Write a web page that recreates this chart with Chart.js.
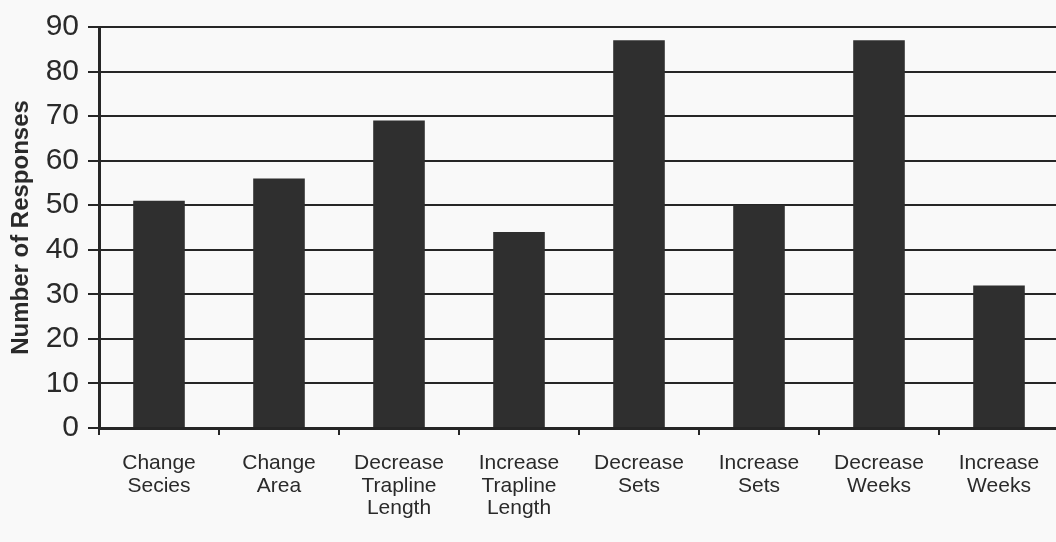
<!DOCTYPE html>
<html>
<head>
<meta charset="utf-8">
<script src="https://cdn.jsdelivr.net/npm/chart.js@4"></script>
<style>
	html, body { margin: 0; padding: 0; background: #f9f9f9; overflow: hidden; }
	#wrap { width: 1059px; height: 542px; }
</style>
</head>
<body>
<div id="wrap"><canvas id="responsesChart"></canvas></div>
<script>
// Chart data
const categories = [
	['Change', 'Secies'],
	['Change', 'Area'],
	['Decrease', 'Trapline', 'Length'],
	['Increase', 'Trapline', 'Length'],
	['Decrease', 'Sets'],
	['Increase', 'Sets'],
	['Decrease', 'Weeks'],
	['Increase', 'Weeks'],
];
const responses = [51, 56, 69, 44, 87, 50, 87, 32];
const yTicks = [0, 10, 20, 30, 40, 50, 60, 70, 80, 90];

const ink = '#262626';

window.onload = () => {
	let context = document.querySelector('#responsesChart');

	new Chart(context, {
		type: 'bar',
		data: {
			labels: categories,
			datasets: [{
				data: responses,
				backgroundColor: '#2f2f2f',
				categoryPercentage: 1,
				barPercentage: 0.43,
			}]
		},
		options: {
			responsive: true,
			maintainAspectRatio: false,
			animation: false,
			layout: { padding: { top: 25, right: 0, left: 0, bottom: 0 } },
			plugins: { legend: { display: false }, tooltip: { enabled: false } },
			scales: {
				x: {
					grid: { offset: true, drawOnChartArea: false, tickLength: 7, color: ink, lineWidth: 2 },
					border: { color: ink, width: 3 },
					ticks: {
						color: '#2a2a2a',
						padding: 17,
						maxRotation: 0,
						autoSkip: false,
						font: { family: 'Liberation Sans, Arial', size: 21, lineHeight: 1.08 },
					},
					afterFit: (scale) => { scale.height = 114; },
				},
				y: {
					min: 0,
					max: 90,
					afterBuildTicks: (scale) => { scale.ticks = yTicks.map(v => ({ value: v })); },
					grid: { color: ink, lineWidth: 2, tickLength: 11 },
					border: { color: ink, width: 3 },
					ticks: {
						color: '#2a2a2a',
						padding: 9,
						font: { family: 'Liberation Sans, Arial', size: 30 },
					},
					title: {
						display: true,
						text: 'Number of Responses',
						color: '#2a2a2a',
						padding: { top: 7, bottom: 0 },
						font: { family: 'Liberation Sans, Arial', size: 24, weight: 'bold' },
					},
					afterFit: (scale) => { scale.width = 99; },
				},
			},
		}
	});
}
</script>
</body>
</html>
